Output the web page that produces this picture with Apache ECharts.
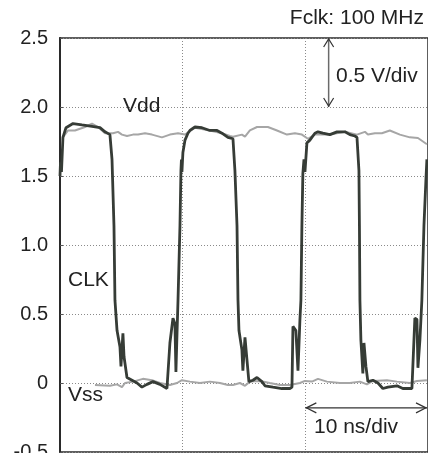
<!DOCTYPE html>
<html>
<head>
<meta charset="utf-8">
<script src="https://cdn.jsdelivr.net/npm/echarts@6/dist/echarts.min.js"></script>
<style>
  html, body { margin: 0; padding: 0; background: #fff; }
  #chart { width: 428px; height: 453px; }
</style>
</head>
<body>
<div id="chart"></div>
<script>
// Oscilloscope capture: 100 MHz clock with Vdd / Vss rails.
// Time in ns, voltage in V.

const yTicks = [-0.5, 0, 0.5, 1.0, 1.5, 2.0, 2.5];

const clkTime = [
  0, 0.04, 0.12, 0.24, 0.49, 1.06, 1.79, 2.61, 3.26, 3.67, 4.07, 4.24, 4.40, 4.48,
  4.65, 4.89, 4.97, 5.13, 5.22, 5.46, 5.87, 6.28, 6.68, 7.09, 7.58, 8.15, 8.72, 8.88,
  8.96, 9.21, 9.37, 9.45, 9.54, 9.62, 9.78, 9.86, 9.90, 9.94, 10.02, 10.19, 10.43, 10.59,
  11.00, 11.57, 12.22, 12.80, 13.20, 13.69, 14.10, 14.26, 14.43, 14.51, 14.59, 14.83,
  14.91, 15.08, 15.24, 15.40, 15.73, 16.06, 16.46, 16.71, 17.36, 18.09, 18.74, 18.91,
  18.99, 19.23, 19.40, 19.56, 19.64, 19.72, 19.80, 19.89, 19.97, 20.13, 20.37, 20.78,
  21.03, 21.43, 22.00, 22.58, 23.23, 23.63, 24.04, 24.21, 24.37, 24.41, 24.45, 24.53,
  24.61, 24.69, 24.78, 24.94, 25.10, 25.51, 25.92, 26.32, 26.73, 27.47, 27.95, 28.69,
  28.77, 28.93, 29.10, 29.18, 29.34, 29.50, 29.67, 29.83, 29.91
];
const clkVolt = [
  1.50, 1.60, 1.53, 1.78, 1.85, 1.88, 1.87, 1.86, 1.85, 1.82, 1.80, 1.62, 1.14, 0.60,
  0.38, 0.26, 0.12, 0.36, 0.19, 0.04, 0.02, 0.00, -0.03, -0.01, 0.01, -0.01, -0.04, -0.04,
  0.29, 0.47, 0.43, 0.08, 0.36, 0.60, 1.14, 1.54, 1.62, 1.53, 1.67, 1.76, 1.81, 1.83,
  1.855, 1.85, 1.83, 1.83, 1.81, 1.78, 1.77, 1.54, 1.14, 0.60, 0.38, 0.24,
  0.09, 0.33, 0.17, 0.01, 0.02, 0.04, 0.01, -0.02, -0.03, -0.04, -0.04, -0.03,
  0.41, 0.38, 0.09, 0.46, 0.60, 1.14, 1.52, 1.62, 1.53, 1.74, 1.76, 1.81,
  1.82, 1.81, 1.80, 1.82, 1.82, 1.80, 1.79, 1.78, 1.54, 1.14, 0.60, 0.31,
  0.19, 0.07, 0.29, 0.12, 0.01, 0.02, 0.00, -0.04, -0.03, -0.02, -0.04, -0.04,
  -0.04, 0.47, 0.46, 0.11, 0.31, 0.60, 1.14, 1.47, 1.62
];

const vddTime = [
  0.24, 0.65, 1.22, 2.04, 2.61, 3.10, 3.67, 4.32, 4.73, 5.05, 5.46, 5.95, 6.36, 6.93,
  7.50, 8.31, 8.96, 9.62, 10.19, 11.00, 12.22, 13.20, 13.85, 14.10, 14.83, 15.08, 15.48,
  16.06, 16.95, 17.69, 18.50, 19.15, 19.72, 20.21, 20.78, 22.00, 23.23, 24.21, 24.86,
  25.10, 25.67, 26.24, 26.89, 27.71, 28.52, 29.18, 29.91
];
const vddVolt = [
  1.78, 1.83, 1.83, 1.855, 1.88, 1.855, 1.81, 1.81, 1.82, 1.80, 1.79, 1.80, 1.80, 1.81,
  1.80, 1.78, 1.80, 1.81, 1.80, 1.85, 1.83, 1.81, 1.79, 1.785, 1.80, 1.785, 1.83,
  1.855, 1.855, 1.83, 1.80, 1.81, 1.80, 1.77, 1.80, 1.80, 1.82, 1.80, 1.82,
  1.80, 1.81, 1.81, 1.83, 1.80, 1.78, 1.775, 1.73
];

const vssTime = [
  2.85, 4.07, 4.65, 5.05, 5.30, 5.95, 6.76, 7.50, 8.15, 8.96, 9.54, 9.94, 10.59, 11.41,
  12.22, 13.04, 13.69, 14.10, 14.67, 15.08, 15.48, 16.30, 17.11, 17.93, 18.74, 19.56,
  19.97, 20.54, 21.03, 21.76, 22.82, 23.63, 24.45, 25.02, 25.51, 26.65, 27.47, 28.52,
  29.10, 29.91
];
const vssVolt = [
  -0.015, -0.02, -0.01, -0.03, 0.00, 0.01, 0.03, 0.02, 0.00, -0.015, 0.00, 0.02, 0.01, 0.00,
  0.01, 0.00, -0.015, -0.015, 0.00, -0.02, 0.01, 0.015, 0.00, -0.015, -0.015, 0.00,
  0.015, 0.01, 0.03, 0.01, 0.00, 0.00, 0.01, -0.01, 0.015, 0.02, 0.01, 0.00,
  0.015, 0.02
];

// Scale markers (time in ns, voltage in V)
const voltDivMarker = { t: 21.9, from: 2.0, to: 2.5 };
const timeDivMarker = { v: -0.18, from: 20, to: 30 };

const zip = (xs, ys) => xs.map((x, i) => [x, ys[i]]);

const FONT = '"Liberation Sans", Arial, sans-serif';
const TEXT = '#222';
const GRAY = '#a6a6a6';
const DARK = '#363c36';

const chart = echarts.init(document.getElementById('chart'), null, { renderer: 'canvas' });

chart.setOption({
  animation: false,
  backgroundColor: '#fff',
  grid: {
    left: 60, right: 0, top: 38, bottom: 1,
    outerBoundsMode: 'none', containLabel: false,
    show: true, borderColor: '#2a2a2a', borderWidth: 1.5, backgroundColor: 'transparent'
  },
  xAxis: {
    type: 'value', min: 0, max: 30, interval: 10,
    axisLine: { show: false },
    axisTick: { show: false },
    axisLabel: { show: false },
    splitLine: { show: true, lineStyle: { color: '#8a8a8a', width: 1, type: [1, 2] } }
  },
  yAxis: {
    type: 'value', min: -0.5, max: 2.5, interval: 0.5,
    axisLine: { show: true, onZero: false, lineStyle: { color: '#2a2a2a', width: 2 } },
    axisTick: { show: true, inside: true, length: 3, lineStyle: { color: '#555', width: 1 } },
    axisLabel: {
      margin: 12, color: TEXT, fontSize: 20, fontFamily: FONT,
      formatter: v => {
        const t = yTicks.find(k => Math.abs(k - v) < 1e-9);
        return t === 0 ? '0' : t.toFixed(1);
      }
    },
    splitLine: { show: true, lineStyle: { color: '#8a8a8a', width: 1, type: [1, 2] } }
  },
  series: [
    {
      name: 'Vdd', type: 'line', data: zip(vddTime, vddVolt), showSymbol: false,
      lineStyle: { color: GRAY, width: 2 }, z: 2
    },
    {
      name: 'Vss', type: 'line', data: zip(vssTime, vssVolt), showSymbol: false,
      lineStyle: { color: GRAY, width: 2 }, z: 2
    },
    {
      name: 'CLK', type: 'line', data: zip(clkTime, clkVolt), showSymbol: false,
      lineStyle: { color: DARK, width: 2.8 }, z: 3
    }
  ]
});

// Annotations: labels and the scale arrows
function px(t, v) { return chart.convertToPixel({ gridIndex: 0 }, [t, v]); }

const vTop = px(voltDivMarker.t, voltDivMarker.to);
const vBot = px(voltDivMarker.t, voltDivMarker.from);
const hL = px(timeDivMarker.from, timeDivMarker.v);
const hR = px(timeDivMarker.to, timeDivMarker.v);
hR[0] -= 1;

const textStyle = (s) => ({ text: s, font: '21px ' + FONT, fill: TEXT, textVerticalAlign: 'middle' });

chart.setOption({
  graphic: [
    { type: 'text', x: 424, y: 18, style: Object.assign(textStyle('Fclk: 100 MHz'), { textAlign: 'right' }) },
    { type: 'text', x: 336, y: 76, style: textStyle('0.5 V/div') },
    { type: 'text', x: 123, y: 106, style: textStyle('Vdd') },
    { type: 'text', x: 68, y: 280, style: textStyle('CLK') },
    { type: 'text', x: 68, y: 395, style: textStyle('Vss') },
    { type: 'text', x: 314, y: 427, style: textStyle('10 ns/div') },
    // volt/div arrow
    { type: 'line', shape: { x1: vTop[0], y1: vTop[1], x2: vBot[0], y2: vBot[1] }, style: { stroke: '#6a6a6a', lineWidth: 1.5 } },
    { type: 'polyline', shape: { points: [[vTop[0] - 5, vTop[1] + 9], [vTop[0], vTop[1] + 1], [vTop[0] + 5, vTop[1] + 9]] }, style: { stroke: '#333', lineWidth: 1.2, fill: null } },
    { type: 'polyline', shape: { points: [[vBot[0] - 5, vBot[1] - 9], [vBot[0], vBot[1] - 1], [vBot[0] + 5, vBot[1] - 9]] }, style: { stroke: '#333', lineWidth: 1.2, fill: null } },
    // time/div arrow
    { type: 'line', shape: { x1: hL[0], y1: hL[1], x2: hR[0], y2: hR[1] }, style: { stroke: '#333', lineWidth: 1.2 } },
    { type: 'polyline', shape: { points: [[hL[0] + 11, hL[1] - 5], [hL[0] + 1, hL[1]], [hL[0] + 11, hL[1] + 5]] }, style: { stroke: '#333', lineWidth: 1.2, fill: null } },
    { type: 'polyline', shape: { points: [[hR[0] - 11, hR[1] - 5], [hR[0] - 1, hR[1]], [hR[0] - 11, hR[1] + 5]] }, style: { stroke: '#333', lineWidth: 1.2, fill: null } }
  ]
});
</script>
</body>
</html>
